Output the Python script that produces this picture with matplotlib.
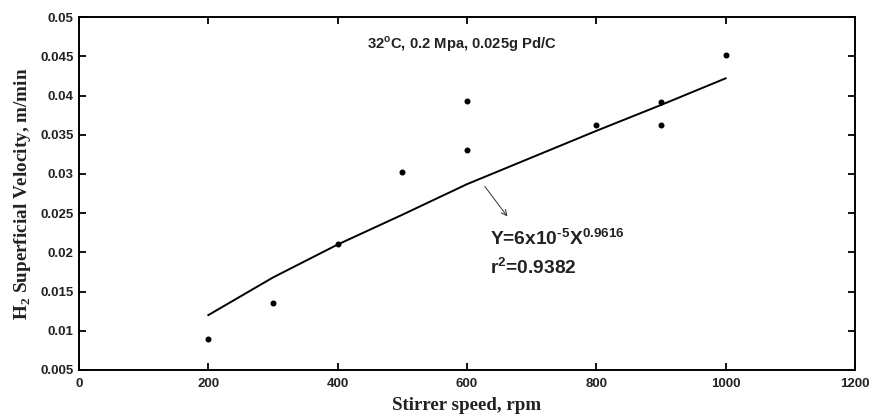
import numpy as np
import matplotlib
matplotlib.use('Agg')
import matplotlib.pyplot as plt

# measured data (stirrer speed, H2 superficial velocity)
speed = [200, 300, 400, 500, 600, 600, 800, 900, 900, 1000]
velocity = [0.0090, 0.0135, 0.0211, 0.0302, 0.0393, 0.0331, 0.0362, 0.0392, 0.0362, 0.0452]

# fitted curve as drawn
fit_speed = [200, 300, 400, 500, 600, 700, 800, 900, 1000]
fit_velocity = [0.0120, 0.0168, 0.0210, 0.0248, 0.0287, 0.0321, 0.0355, 0.0388, 0.0422]

xticks = [0, 200, 400, 600, 800, 1000, 1200]
yticks = [0.005, 0.01, 0.015, 0.02, 0.025, 0.03, 0.035, 0.04, 0.045, 0.05]
ytick_labels = ['0.005', '0.01', '0.015', '0.02', '0.025', '0.03', '0.035', '0.04', '0.045', '0.05']

sans = 'Liberation Sans'
serif = 'Liberation Serif'

# mathtext: bf -> bold Arial-like, sf -> bold Times-like (for the H2 subscript)
plt.rcParams['mathtext.fontset'] = 'custom'
plt.rcParams['mathtext.rm'] = 'Liberation Sans:bold'
plt.rcParams['mathtext.bf'] = 'Liberation Sans:bold'
plt.rcParams['mathtext.sf'] = 'Liberation Serif:bold'

fig = plt.figure(figsize=(8.71, 4.19), dpi=100)
ax = fig.add_axes([0.0907, 0.117, 0.8909, 0.842])

ax.plot(fit_speed, fit_velocity, '-k', lw=1.4)
ax.plot(speed, velocity, 'o', color='k', ms=3.3)

ax.set_xlim(0, 1200)
ax.set_ylim(0.005, 0.05)
ax.set_xticks(xticks)
ax.set_yticks(yticks)
ax.set_yticklabels(ytick_labels)
ax.tick_params(direction='in', length=5, width=1.3, top=True, right=True,
               labelsize=9.5, pad=4)
ax.tick_params(axis='x', pad=6)
for lab in ax.get_xticklabels() + ax.get_yticklabels():
    lab.set_fontfamily(sans)
    lab.set_fontweight('bold')
    lab.set_color('#222222')
for sp in ax.spines.values():
    sp.set_linewidth(1.4)

ax.set_xlabel('Stirrer speed, rpm', fontfamily=serif, fontweight='bold',
              fontsize=13.6, labelpad=5, color='#222222')
ax.set_ylabel(r'H$_{\mathsf{2}}$ Superficial Velocity, m/min', fontfamily=serif,
              fontweight='bold', fontsize=13.8, labelpad=5, color='#222222')

ax.text(592, 0.0465, r'32$^{\mathbf{o}}$C, 0.2 Mpa, 0.025g Pd/C', ha='center', va='center',
        fontfamily=sans, fontweight='bold', fontsize=10.6, color='#222222')

ax.annotate('', xy=(665, 0.0243), xytext=(625, 0.0287),
            arrowprops=dict(arrowstyle='->', color='#333333', lw=0.7))
ax.text(635, 0.0210, r'Y=6x10$^{\mathbf{\text{-}5}}$X$^{\mathbf{0.9616}}$', ha='left', va='baseline',
        fontfamily=sans, fontweight='bold', fontsize=13.8, color='#222222')
ax.text(635, 0.0173, r'r$^{\mathbf{2}}$=0.9382', ha='left', va='baseline',
        fontfamily=sans, fontweight='bold', fontsize=13.8, color='#222222')

fig.savefig('out.png', dpi=100)
